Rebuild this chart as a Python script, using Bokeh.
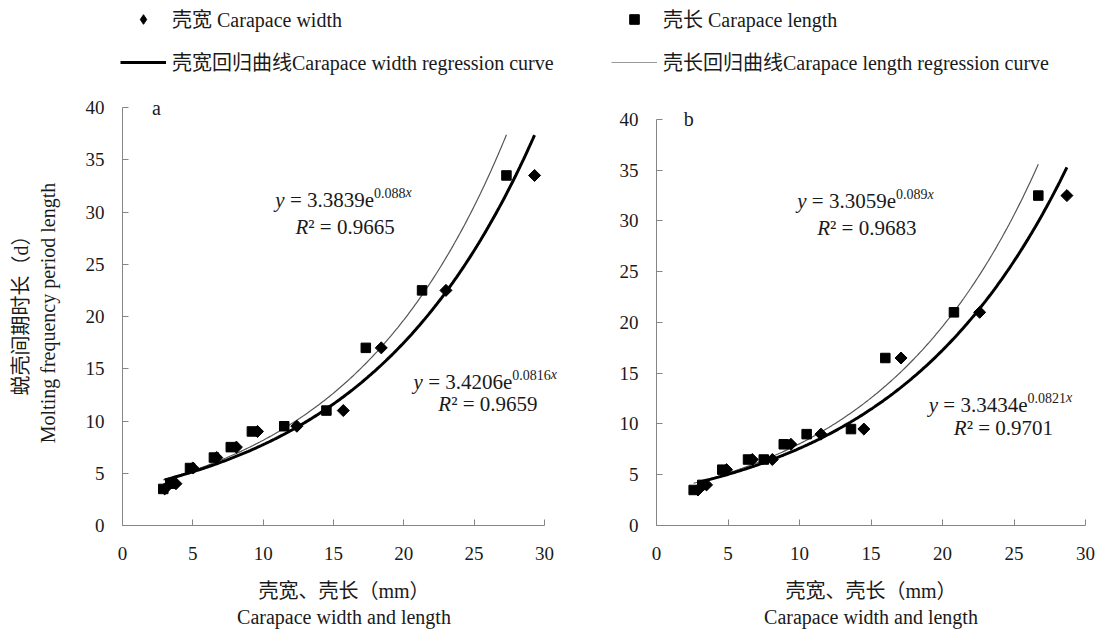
import numpy as np
from bokeh.plotting import figure
from bokeh.models import (ColumnDataSource, Range1d, FixedTicker, Label,
                          Legend, LegendItem)
from bokeh.layouts import column, row
from bokeh.embed import file_html
from bokeh.resources import INLINE

# ---------------- data ----------------
x_ticks = [0, 5, 10, 15, 20, 25, 30]
y_ticks = [0, 5, 10, 15, 20, 25, 30, 35, 40]

# panel a
a_y        = [3.5, 4.0, 5.5, 6.5, 7.5, 9.0, 9.5, 11.0, 17.0, 22.5, 33.5]
a_width_x  = [3.0, 3.8, 5.0, 6.7, 8.1, 9.6, 12.4, 15.7, 18.4, 23.0, 29.3]
a_length_x = [2.9, 3.4, 4.8, 6.5, 7.7, 9.2, 11.5, 14.5, 17.3, 21.3, 27.3]
# panel b
b_y        = [3.5, 4.0, 5.5, 6.5, 6.5, 8.0, 9.0, 9.5, 16.5, 21.0, 32.5]
b_width_x  = [2.9, 3.5, 4.9, 6.7, 8.1, 9.4, 11.5, 14.5, 17.1, 22.6, 28.7]
b_length_x = [2.6, 3.2, 4.6, 6.4, 7.5, 8.9, 10.5, 13.6, 16.0, 20.8, 26.7]

# regression curves y = a * exp(b x): (a, b, "R2")
a_width_fit  = (3.4206, 0.0816, "0.9659")
a_length_fit = (3.3839, 0.088, "0.9665")
b_width_fit  = (3.3434, 0.0821, "0.9701")
b_length_fit = (3.3059, 0.089, "0.9683")

legend_labels = ["壳宽 Carapace width", "壳长 Carapace length",
                 "壳宽回归曲线Carapace width regression curve",
                 "壳长回归曲线Carapace length regression curve"]
x_label = "壳宽、壳长（mm）\nCarapace width and length"
y_label = "蜕壳间期时长（d）\nMolting frequency  period length"

# ---------------- styling ----------------
SERIF = "Liberation Serif, Noto Sans CJK SC"
TEXT = "#1a1a1a"
AXIS_GRAY = "#858585"
THIN = "#555555"

TW = {'0': .5, '1': .5, '2': .5, '3': .5, '4': .5, '5': .5, '6': .5, '7': .5,
      '8': .5, '9': .5, '.': .25, ' ': .25, '=': .564, 'e': .444, 'y': .444,
      'x': .444, 'R': .611, '²': .3}


def tw(s, size):
    return sum(TW.get(c, .5) for c in s) * size


def add_pieces(p, x, y, parts):
    off = 0.0
    for text, style, size, dy in parts:
        lead = len(text) - len(text.lstrip(" "))
        off += tw(" " * lead, size)
        body = text.lstrip(" ")
        p.add_layout(Label(x=x, y=y, x_offset=off, y_offset=dy, text=body,
                           text_font=SERIF, text_font_style=style,
                           text_font_size=f"{size}px", text_color=TEXT,
                           text_baseline="alphabetic", text_align="left"))
        off += tw(body, size)


def add_equation(p, x, y, fit):
    coef, expo, _ = fit
    add_pieces(p, x, y, [("y", "italic", 21, 0),
                         (f" = {coef}e", "normal", 21, 0),
                         (f"{expo}", "normal", 14, 7),
                         ("x", "italic", 14, 7)])


def add_r2(p, x, y, fit):
    add_pieces(p, x, y, [("R", "italic", 21, 0),
                         (f"² = {fit[2]}", "normal", 21, 0)])


def make_panel(letter, width, height, borders, xmax, ymax, wx, lx, ys, wfit,
               lfit, eq_pos, show_ylabel, letter_x):
    bl, br, bt, bb = borders
    p = figure(width=width, height=height, x_range=Range1d(0, xmax),
               y_range=Range1d(0, ymax), toolbar_location=None,
               output_backend="svg", min_border_left=bl, min_border_right=br,
               min_border_top=bt, min_border_bottom=bb)
    p.xgrid.visible = False
    p.ygrid.visible = False
    p.outline_line_color = None
    p.background_fill_color = "white"
    p.border_fill_color = "white"

    for ax in (p.xaxis[0], p.yaxis[0]):
        ax.axis_line_color = AXIS_GRAY
        ax.axis_line_width = 1
        ax.major_tick_line_color = AXIS_GRAY
        ax.major_tick_in = 6
        ax.major_tick_out = 0
        ax.minor_tick_line_color = None
        ax.major_label_text_font = SERIF
        ax.major_label_text_font_size = "19px"
        ax.major_label_text_color = TEXT
        ax.axis_label_text_font = SERIF
        ax.axis_label_text_font_size = "20px"
        ax.axis_label_text_font_style = "normal"
        ax.axis_label_text_color = TEXT
    p.xaxis[0].major_label_standoff = 21
    p.yaxis[0].major_label_standoff = 18
    p.xaxis[0].ticker = FixedTicker(ticks=x_ticks)
    p.yaxis[0].ticker = FixedTicker(ticks=y_ticks)
    p.xaxis[0].bounds = (x_ticks[0], x_ticks[-1])
    p.yaxis[0].bounds = (y_ticks[0], y_ticks[-1])
    p.xaxis[0].axis_label = x_label
    p.xaxis[0].axis_label_standoff = 17
    if show_ylabel:
        p.yaxis[0].axis_label = y_label
        p.yaxis[0].axis_label_standoff = 24

    # regression curves
    for xs, fit, color, lw in ((lx, lfit, THIN, 1.2), (wx, wfit, "black", 3)):
        cx = np.linspace(min(xs), max(xs), 200)
        cy = fit[0] * np.exp(fit[1] * cx)
        p.line(cx, cy, line_color=color, line_width=lw)

    # points
    p.scatter(lx, ys, marker="square", size=9.5, fill_color="black",
              line_color="black")
    p.scatter(wx, ys, marker="square", angle=np.pi / 4, size=8.5,
              fill_color="black", line_color="black")

    (e1x, e1y, r1x, r1y, e2x, e2y, r2x, r2y) = eq_pos
    add_equation(p, e1x, e1y, lfit)
    add_r2(p, r1x, r1y, lfit)
    add_equation(p, e2x, e2y, wfit)
    add_r2(p, r2x, r2y, wfit)

    p.add_layout(Label(x=letter_x, y=40, text=letter, text_font=SERIF,
                       text_font_size="20px", text_color=TEXT,
                       text_baseline="middle", text_align="left"))
    return p


# frames: top at 95, bottom (y=0) at 525 in both panels (row aligns frames)
fa = make_panel("a", 600, 554, (122, 35, 17, 107), 31.5, 41.15,
                a_width_x, a_length_x, a_y, a_width_fit, a_length_fit,
                (10.87, 31.18, 12.3, 28.6, 20.7, 13.75, 22.46, 11.65), True, 2.1)
fb = make_panel("b", 496, 554, (56, 11, 17, 107), 30, 42.36,
                b_width_x, b_length_x, b_y, b_width_fit, b_length_fit,
                (9.84, 31.93, 11.24, 29.31, 19.04, 11.9, 20.79, 9.61), False, 1.9)

# ---------------- legend strip ----------------
lf = figure(width=1096, height=78, x_range=Range1d(0, 1), y_range=Range1d(0, 1),
            toolbar_location=None, output_backend="svg",
            x_axis_location=None, y_axis_location=None,
            min_border_left=116, min_border_right=0, min_border_top=0,
            min_border_bottom=0)
lf.xgrid.visible = False
lf.ygrid.visible = False
lf.outline_line_color = None
off_src = ColumnDataSource(dict(x=[-5], y=[-5]))
r_w = lf.scatter("x", "y", source=off_src, marker="diamond", size=12,
                 fill_color="black", line_color="black")
r_l = lf.scatter("x", "y", source=off_src, marker="square", size=8,
                 fill_color="black", line_color="black")
r_wc = lf.line("x", "y", source=off_src, line_color="black", line_width=3)
r_lc = lf.line("x", "y", source=off_src, line_color="#9a9a9a", line_width=1.2)
legend = Legend(items=[LegendItem(label=legend_labels[0], renderers=[r_w]),
                       LegendItem(label=legend_labels[1], renderers=[r_l]),
                       LegendItem(label=legend_labels[2], renderers=[r_wc]),
                       LegendItem(label=legend_labels[3], renderers=[r_lc])],
                location="top_left", orientation="horizontal", ncols=2,
                margin=4, padding=11, spacing=14, glyph_width=46,
                glyph_height=24, label_height=24, label_width=425,
                label_standoff=6, label_text_font=SERIF,
                label_text_font_size="20px", label_text_color=TEXT,
                border_line_color=None, background_fill_alpha=0)
lf.add_layout(legend)

layout = column(lf, row(fa, fb))
open("out.html", "w").write(file_html(layout, INLINE))
